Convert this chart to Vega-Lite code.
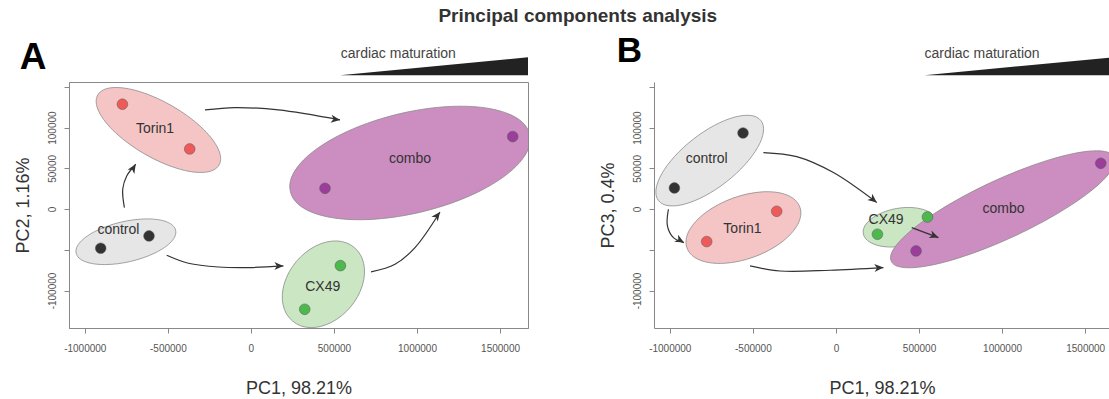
{
  "$schema": "https://vega.github.io/schema/vega-lite/v6.json",
  "background": "white",
  "autosize": {"type": "pad"},
  "padding": {"left": 13, "top": 7, "right": 0, "bottom": 0},
  "title": {"text": "Principal components analysis", "fontSize": 19, "fontWeight": "bold", "color": "#333333", "anchor": "middle", "dx": 16, "offset": 8},
  "bounds": "flush",
  "spacing": 126,
  "resolve": {"scale": {"shape": "independent"}},
  "config": {
    "font": "Liberation Sans",
    "view": {"stroke": null},
    "axis": {"grid": false, "domainColor": "#888888", "tickColor": "#888888", "tickSize": 5, "labelColor": "#555555", "labelFontSize": 10, "titleColor": "#333333", "titleFontSize": 18, "titleFontWeight": "normal", "labelFlush": false, "labelOverlap": false}
  },
  "datasets": {
    "samples": [
      {"panel": "A", "group": "control", "x": -904200, "y": -48100},
      {"panel": "A", "group": "control", "x": -613400, "y": -33000},
      {"panel": "A", "group": "Torin1", "x": -773500, "y": 128700},
      {"panel": "A", "group": "Torin1", "x": -368400, "y": 73800},
      {"panel": "A", "group": "CX49", "x": 538800, "y": -69400},
      {"panel": "A", "group": "CX49", "x": 323900, "y": -123000},
      {"panel": "A", "group": "combo", "x": 446100, "y": 25500},
      {"panel": "A", "group": "combo", "x": 1576000, "y": 89000},
      {"panel": "B", "group": "control", "x": -972200, "y": 25900},
      {"panel": "B", "group": "control", "x": -559200, "y": 93400},
      {"panel": "B", "group": "Torin1", "x": -777700, "y": -39900},
      {"panel": "B", "group": "Torin1", "x": -356400, "y": -2700},
      {"panel": "B", "group": "CX49", "x": 249800, "y": -30900},
      {"panel": "B", "group": "CX49", "x": 550800, "y": -9700},
      {"panel": "B", "group": "combo", "x": 482200, "y": -51400},
      {"panel": "B", "group": "combo", "x": 1594000, "y": 56200}
    ],
    "ellipses": [
      {"panel": "A", "group": "control", "id": "A_control", "x": -752500, "y": -40100},
      {"panel": "A", "group": "Torin1", "id": "A_Torin1", "x": -556800, "y": 97100},
      {"panel": "A", "group": "CX49", "id": "A_CX49", "x": 436400, "y": -92300},
      {"panel": "A", "group": "combo", "id": "A_combo", "x": 957700, "y": 56600},
      {"panel": "B", "group": "control", "id": "B_control", "x": -759700, "y": 59500},
      {"panel": "B", "group": "Torin1", "id": "B_Torin1", "x": -556800, "y": -22700},
      {"panel": "B", "group": "CX49", "id": "B_CX49", "x": 384100, "y": -22300},
      {"panel": "B", "group": "combo", "id": "B_combo", "x": 1004100, "y": -250}
    ],
    "labels": [
      {"panel": "A", "group": "Torin1", "x": -577300, "y": 98800},
      {"panel": "A", "group": "control", "x": -797600, "y": -26000},
      {"panel": "A", "group": "combo", "x": 957700, "y": 61100},
      {"panel": "A", "group": "CX49", "x": 432200, "y": -95100},
      {"panel": "B", "group": "control", "x": -777800, "y": 61100},
      {"panel": "B", "group": "Torin1", "x": -562800, "y": -24800},
      {"panel": "B", "group": "CX49", "x": 301600, "y": -13700},
      {"panel": "B", "group": "combo", "x": 1008300, "y": 600}
    ],
    "notes": [
      {"panel": "A", "kind": "letter", "text": "A", "x": -1391800, "y": 171600},
      {"panel": "A", "kind": "caption", "text": "cardiac maturation", "x": 540600, "y": 185100},
      {"panel": "B", "kind": "letter", "text": "B", "x": -1319500, "y": 180200},
      {"panel": "B", "kind": "caption", "text": "cardiac maturation", "x": 532700, "y": 185100}
    ],
    "arrows": [
      {"panel": "A", "arrow": "A1", "i": 0, "x": -276300, "y": 121700, "tip": 0},
      {"panel": "A", "arrow": "A1", "i": 1, "x": -95700, "y": 124600, "tip": 0},
      {"panel": "A", "arrow": "A1", "i": 2, "x": 165500, "y": 121700, "tip": 0},
      {"panel": "A", "arrow": "A1", "i": 3, "x": 536400, "y": 109400, "tip": 1},
      {"panel": "A", "arrow": "A2", "i": 0, "x": -761500, "y": 1800, "tip": 0},
      {"panel": "A", "arrow": "A2", "i": 1, "x": -771700, "y": 24300, "tip": 0},
      {"panel": "A", "arrow": "A2", "i": 2, "x": -747600, "y": 40600, "tip": 0},
      {"panel": "A", "arrow": "A2", "i": 3, "x": -693500, "y": 55000, "tip": 1},
      {"panel": "A", "arrow": "A3", "i": 0, "x": -506900, "y": -56700, "tip": 0},
      {"panel": "A", "arrow": "A3", "i": 1, "x": -376200, "y": -66500, "tip": 0},
      {"panel": "A", "arrow": "A3", "i": 2, "x": -195600, "y": -71100, "tip": 0},
      {"panel": "A", "arrow": "A3", "i": 3, "x": -15000, "y": -71800, "tip": 0},
      {"panel": "A", "arrow": "A3", "i": 4, "x": 195600, "y": -69800, "tip": 1},
      {"panel": "A", "arrow": "A4", "i": 0, "x": 723000, "y": -77200, "tip": 0},
      {"panel": "A", "arrow": "A4", "i": 1, "x": 867400, "y": -67800, "tip": 0},
      {"panel": "A", "arrow": "A4", "i": 2, "x": 987800, "y": -47300, "tip": 0},
      {"panel": "A", "arrow": "A4", "i": 3, "x": 1138300, "y": -3600, "tip": 1},
      {"panel": "B", "arrow": "B1", "i": 0, "x": -436400, "y": 69400, "tip": 0},
      {"panel": "B", "arrow": "B1", "i": 1, "x": -236000, "y": 64400, "tip": 0},
      {"panel": "B", "arrow": "B1", "i": 2, "x": -15000, "y": 44800, "tip": 0},
      {"panel": "B", "arrow": "B1", "i": 3, "x": 245600, "y": 8000, "tip": 1},
      {"panel": "B", "arrow": "B2", "i": 0, "x": -1008300, "y": -200, "tip": 0},
      {"panel": "B", "arrow": "B2", "i": 1, "x": -1014300, "y": -20700, "tip": 0},
      {"panel": "B", "arrow": "B2", "i": 2, "x": -978200, "y": -35000, "tip": 0},
      {"panel": "B", "arrow": "B2", "i": 3, "x": -914400, "y": -41100, "tip": 1},
      {"panel": "B", "arrow": "B3", "i": 0, "x": -517100, "y": -69800, "tip": 0},
      {"panel": "B", "arrow": "B3", "i": 1, "x": -336500, "y": -76000, "tip": 0},
      {"panel": "B", "arrow": "B3", "i": 2, "x": -35500, "y": -75100, "tip": 0},
      {"panel": "B", "arrow": "B3", "i": 3, "x": 285900, "y": -71800, "tip": 1},
      {"panel": "B", "arrow": "B4", "i": 0, "x": 456300, "y": -22700, "tip": 0},
      {"panel": "B", "arrow": "B4", "i": 1, "x": 617000, "y": -35000, "tip": 1}
    ],
    "wedge": [
      {"panel": "A", "x": 536400, "y": 164300},
      {"panel": "A", "x": 1668000, "y": 186300},
      {"panel": "B", "x": 532700, "y": 164300},
      {"panel": "B", "x": 1649500, "y": 186000}
    ]
  },
  "hconcat": [
    {
      "width": 459,
      "height": 246,
      "view": {"stroke": "#888888", "strokeWidth": 1},
      "resolve": {"scale": {"shape": "independent"}},
      "encoding": {
        "x": {"field": "x", "type": "quantitative", "scale": {"domain": [-1095000, 1668000], "nice": false, "zero": false},
              "axis": {"title": "PC1, 98.21%", "values": [-1000000, -500000, 0, 500000, 1000000, 1500000], "labelExpr": "'' + datum.value", "labelPadding": 10, "titlePadding": 26}},
        "y": {"field": "y", "type": "quantitative", "scale": {"domain": [-146000, 156000], "nice": false, "zero": false},
              "axis": {"title": "PC2, 1.16%", "values": [-100000, -50000, 0, 50000, 100000, 150000], "labelExpr": "datum.value == 150000 || datum.value == -50000 ? '' : '' + datum.value", "labelAngle": 270, "labelAlign": "center", "labelBaseline": "bottom", "labelPadding": 7, "titlePadding": 15}}
      },
      "layer": [
        {
          "data": {"name": "ellipses"},
          "transform": [{"filter": "datum.panel == 'A'"}],
          "mark": {"type": "point", "filled": true, "size": 4, "opacity": 1, "stroke": "#8c8c8c", "strokeWidth": 0.8, "clip": true},
          "encoding": {
            "shape": {"field": "id", "type": "nominal", "legend": null, "scale": {"domain": ["A_control", "A_Torin1", "A_CX49", "A_combo"], "range": [
              "M49.69,-11.47A51,20,-13,1,1,-49.69,11.47A51,20,-13,1,1,49.69,-11.47Z",
              "M60.62,35A70,27.5,30,1,1,-60.62,-35A70,27.5,30,1,1,60.62,35Z",
              "M30.85,-36.77A48,35,-50,1,1,-30.85,36.77A48,35,-50,1,1,30.85,-36.77Z",
              "M119.6,-28.71A123,50,-13.5,1,1,-119.6,28.71A123,50,-13.5,1,1,119.6,-28.71Z"]}},
            "fill": {"field": "group", "type": "nominal", "legend": null, "scale": {"domain": ["control", "Torin1", "CX49", "combo"], "range": ["#e6e6e6", "#f5c5c5", "#cbe6c3", "#cc8dc0"]}}
          }
        },
        {
          "data": {"name": "arrows"},
          "transform": [{"filter": "datum.panel == 'A'"}],
          "mark": {"type": "line", "interpolate": "catmull-rom", "color": "#333333", "strokeWidth": 1.2},
          "encoding": {"detail": {"field": "arrow"}, "order": {"field": "i", "type": "quantitative"}}
        },
        {
          "data": {"name": "arrows"},
          "transform": [{"filter": "datum.panel == 'A' && datum.tip == 1"}],
          "mark": {"type": "point", "filled": true, "size": 4, "opacity": 1, "color": "#333333"},
          "encoding": {
            "shape": {"field": "arrow", "type": "nominal", "legend": null, "scale": {"domain": ["A1", "A2", "A3", "A4"], "range": [
              "M0,0L-9.47,2.71L-6.44,-0.9L-8.36,-5.21Z",
              "M0,0L-1.38,9.75L-3.44,5.51L-8.16,5.51Z",
              "M0,0L-9,4L-6.5,0L-9,-4Z",
              "M0,0L-2.23,9.6L-3.91,5.19L-8.61,4.78Z"]}}
          }
        },
        {
          "data": {"name": "samples"},
          "transform": [{"filter": "datum.panel == 'A'"}],
          "mark": {"type": "point", "filled": true, "size": 115, "opacity": 1, "stroke": "#555555", "strokeWidth": 0.5},
          "encoding": {
            "color": {"field": "group", "type": "nominal", "legend": null, "scale": {"domain": ["control", "Torin1", "CX49", "combo"], "range": ["#333333", "#ee5a5a", "#4db84d", "#9b3e9b"]}}
          }
        },
        {
          "data": {"name": "labels"},
          "transform": [{"filter": "datum.panel == 'A'"}],
          "mark": {"type": "text", "fontSize": 14, "color": "#333333", "align": "center", "baseline": "middle"},
          "encoding": {"text": {"field": "group"}}
        },
        {
          "data": {"name": "wedge"},
          "transform": [{"filter": "datum.panel == 'A'"}],
          "mark": {"type": "area", "color": "#222222"},
          "encoding": {"y2": {"datum": 164300}}
        },
        {
          "data": {"name": "notes"},
          "transform": [{"filter": "datum.panel == 'A' && datum.kind == 'caption'"}],
          "mark": {"type": "text", "fontSize": 14, "color": "#444444", "align": "left", "baseline": "alphabetic"},
          "encoding": {"text": {"field": "text"}}
        },
        {
          "data": {"name": "notes"},
          "transform": [{"filter": "datum.panel == 'A' && datum.kind == 'letter'"}],
          "mark": {"type": "text", "fontSize": 37, "fontWeight": "bold", "color": "#000000", "align": "left", "baseline": "alphabetic"},
          "encoding": {"text": {"field": "text"}}
        }
      ]
    },
    {
      "width": 456,
      "height": 246,
      "view": {"stroke": null},
      "resolve": {"scale": {"shape": "independent"}},
      "encoding": {
        "x": {"field": "x", "type": "quantitative", "scale": {"domain": [-1095000, 1649500], "nice": false, "zero": false},
              "axis": {"title": "PC1, 98.21%", "values": [-1000000, -500000, 0, 500000, 1000000, 1500000], "labelExpr": "'' + datum.value", "labelPadding": 10, "titlePadding": 26}},
        "y": {"field": "y", "type": "quantitative", "scale": {"domain": [-146000, 156000], "nice": false, "zero": false},
              "axis": {"title": "PC3, 0.4%", "values": [-100000, -50000, 0, 50000, 100000, 150000], "labelExpr": "datum.value == 150000 || datum.value == -50000 ? '' : '' + datum.value", "labelAngle": 270, "labelAlign": "center", "labelBaseline": "bottom", "labelPadding": 7, "titlePadding": 15}}
      },
      "layer": [
        {
          "data": {"values": [{}]},
          "mark": {"type": "rule", "color": "#888888", "strokeWidth": 1},
          "encoding": {"x": {"datum": -1095000}, "x2": {"datum": 1649500}, "y": {"datum": 156000}}
        },
        {
          "data": {"name": "ellipses"},
          "transform": [{"filter": "datum.panel == 'B'"}],
          "mark": {"type": "point", "filled": true, "size": 4, "opacity": 1, "stroke": "#8c8c8c", "strokeWidth": 0.8, "clip": true},
          "encoding": {
            "shape": {"field": "id", "type": "nominal", "legend": null, "scale": {"domain": ["B_control", "B_Torin1", "B_CX49", "B_combo"], "range": [
              "M51.22,-40.02A65,27,-38,1,1,-51.22,40.02A65,27,-38,1,1,51.22,-40.02Z",
              "M56.38,-20.52A60,31,-20,1,1,-56.38,20.52A60,31,-20,1,1,56.38,-20.52Z",
              "M36.44,-6.42A37,19,-10,1,1,-36.44,6.42A37,19,-10,1,1,36.44,-6.42Z",
              "M111.47,-51.98A123,29,-25,1,1,-111.47,51.98A123,29,-25,1,1,111.47,-51.98Z"]}},
            "fill": {"field": "group", "type": "nominal", "legend": null, "scale": {"domain": ["control", "Torin1", "CX49", "combo"], "range": ["#e6e6e6", "#f5c5c5", "#cbe6c3", "#cc8dc0"]}}
          }
        },
        {
          "data": {"name": "arrows"},
          "transform": [{"filter": "datum.panel == 'B'"}],
          "mark": {"type": "line", "interpolate": "catmull-rom", "color": "#333333", "strokeWidth": 1.2},
          "encoding": {"detail": {"field": "arrow"}, "order": {"field": "i", "type": "quantitative"}}
        },
        {
          "data": {"name": "arrows"},
          "transform": [{"filter": "datum.panel == 'B' && datum.tip == 1"}],
          "mark": {"type": "point", "filled": true, "size": 4, "opacity": 1, "color": "#333333"},
          "encoding": {
            "shape": {"field": "arrow", "type": "nominal", "legend": null, "scale": {"domain": ["B1", "B2", "B3", "B4"], "range": [
              "M0,0L-9.51,-2.55L-5.05,-4.09L-4.47,-8.77Z",
              "M0,0L-9.81,-0.86L-5.68,-3.15L-5.93,-7.86Z",
              "M0,0L-8.78,4.46L-6.49,0.34L-9.2,-3.52Z",
              "M0,0L-9.83,0.5L-6.07,-2.33L-6.97,-6.96Z"]}}
          }
        },
        {
          "data": {"name": "samples"},
          "transform": [{"filter": "datum.panel == 'B'"}],
          "mark": {"type": "point", "filled": true, "size": 115, "opacity": 1, "stroke": "#555555", "strokeWidth": 0.5},
          "encoding": {
            "color": {"field": "group", "type": "nominal", "legend": null, "scale": {"domain": ["control", "Torin1", "CX49", "combo"], "range": ["#333333", "#ee5a5a", "#4db84d", "#9b3e9b"]}}
          }
        },
        {
          "data": {"name": "labels"},
          "transform": [{"filter": "datum.panel == 'B'"}],
          "mark": {"type": "text", "fontSize": 14, "color": "#333333", "align": "center", "baseline": "middle"},
          "encoding": {"text": {"field": "group"}}
        },
        {
          "data": {"name": "wedge"},
          "transform": [{"filter": "datum.panel == 'B'"}],
          "mark": {"type": "area", "color": "#222222"},
          "encoding": {"y2": {"datum": 164300}}
        },
        {
          "data": {"name": "notes"},
          "transform": [{"filter": "datum.panel == 'B' && datum.kind == 'caption'"}],
          "mark": {"type": "text", "fontSize": 14, "color": "#444444", "align": "left", "baseline": "alphabetic"},
          "encoding": {"text": {"field": "text"}}
        },
        {
          "data": {"name": "notes"},
          "transform": [{"filter": "datum.panel == 'B' && datum.kind == 'letter'"}],
          "mark": {"type": "text", "fontSize": 35, "fontWeight": "bold", "color": "#000000", "align": "left", "baseline": "alphabetic"},
          "encoding": {"text": {"field": "text"}}
        }
      ]
    }
  ]
}
